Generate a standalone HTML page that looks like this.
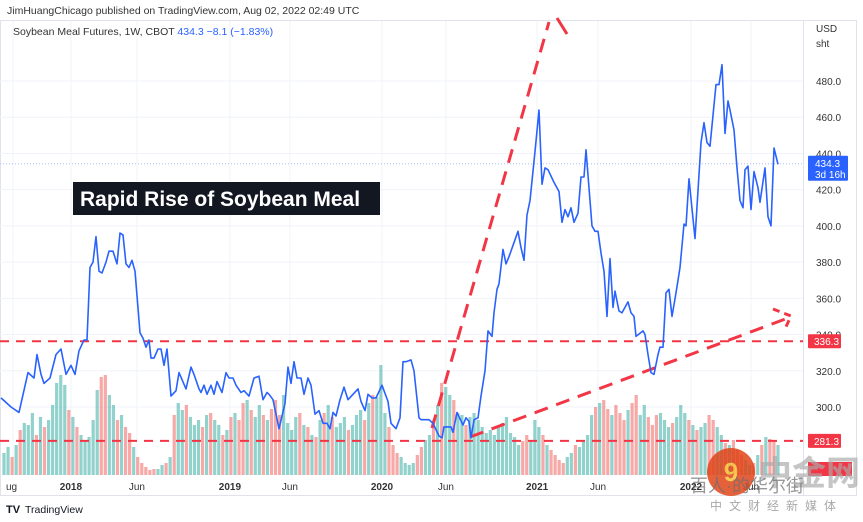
<!DOCTYPE html>
<html><head><meta charset="utf-8">
<style>
html,body{margin:0;padding:0;background:#fff;width:863px;height:522px;overflow:hidden;font-family:"Liberation Sans","Noto Sans CJK SC",sans-serif;}
svg text{font-family:"Liberation Sans","Noto Sans CJK SC",sans-serif;}
</style></head>
<body>
<svg id="chart" width="863" height="522" viewBox="0 0 863 522" xmlns="http://www.w3.org/2000/svg">
  <text x="7" y="14" font-size="10.5" fill="#333">JimHuangChicago published on TradingView.com, Aug 02, 2022 02:49 UTC</text>
  <rect x="0.5" y="20.5" width="856" height="475" fill="none" stroke="#e0e3eb"/>
  <line x1="803.5" y1="20" x2="803.5" y2="496" stroke="#e0e3eb"/>
  <g id="grid"></g>
  <g id="volume"></g>
  <g id="levels"></g>
  <g id="arrows" fill="none" stroke="#f23645" stroke-width="3" stroke-dasharray="14 9">
    <line x1="432" y1="428" x2="549" y2="22"/>
    <polyline points="557,18 567,34" stroke-dasharray="none"/>
    <line x1="470" y1="437" x2="788" y2="318"/>
    <polyline points="773,309 791,316 784,331" stroke-dasharray="7 5"/>
  </g>
  <g id="priceline"></g>
  <g id="yaxis"></g>
  <g id="xaxis"></g>
  <text x="13" y="35" font-size="10.5" fill="#333">Soybean Meal Futures, 1W, CBOT <tspan fill="#2962ff">434.3  −8.1 (−1.83%)</tspan></text>
  <text x="816" y="32" font-size="10" fill="#333">USD</text>
  <text x="816" y="47" font-size="10" fill="#333">sht</text>
  <rect x="73" y="182" width="307" height="33" fill="#131722"/>
  <text x="80" y="206" font-size="21" font-weight="bold" fill="#fff">Rapid Rise of Soybean Meal</text>
  <g opacity="0.85">
    <circle cx="731" cy="472" r="24" fill="#e0461a"/>
    <text x="731" y="481" font-size="26" font-weight="bold" fill="#f7c23a" text-anchor="middle">9</text>
    <text x="758" y="485" font-size="34" font-weight="bold" fill="#aaa" opacity="0.8">中金网</text>
    <text x="690" y="492" font-size="18" fill="#555" opacity="0.7">百人·的华尔街</text>
    <text x="710" y="510" font-size="12" fill="#999" letter-spacing="7">中文财经新媒体</text>
  </g>
  <g>
    <text x="6" y="513" font-size="11" font-weight="bold" fill="#131722">TV</text>
    <text x="25" y="513" font-size="10.5" fill="#131722">TradingView</text>
  </g>
</svg>
<script>
const weekIdx=[0,10,18,27,33,36,40,43,49,55,60,65,70,74,78,83,86,89,92,95,98,101,105,108,112,116,119,122,125,128,131,134,139,142,145,148,150,153,157,160,163,166,170,175,178,185,190,193,198,200,203,206,210,213,216,221,225,228,232,235,240,243,248,253,258,262,266,268,272,278,284,287,290,293,296,300,303,307,310,314,318,322,326,329,332,335,339,343,347,352,357,360,364,367,371,375,381,387,390,395,399,402,405,410,413,418,420,428,432,438,441,443,450,452,456,462,465,468,470,473,477,480,484,487,491,493,496,498,502,505,508,517,520,523,526,529,534,538,541,544,547,553,558,561,564,567,570,573,577,580,583,585,591,594,597,600,603,606,609,612,614,618,621,627,630,633,635,642,644,647,650,653,657,659,662,665,668,671,675,677,679,683,685,688,694,700,703,706,709,715,718,721,724,727,729,733,736,739,742,744,747,750,753,757,759,764,767,770,773,777].map(x=>x/3);
const prices=[305,300,297,319,316,329,318,313,316,329,332,318,323,318,331,337,337,377,380,394,375,374,380,386,386,379,396,395,379,377,381,375,341,338,333,337,327,327,332,332,323,332,306,309,319,310,322,318,310,308,312,307,312,307,314,308,319,316,316,312,308,309,306,316,317,304,308,307,304,288,302,322,313,325,316,316,307,316,312,296,298,291,291,288,297,295,304,311,304,307,310,303,298,307,305,305,312,303,291,288,294,325,325,326,320,294,293,293,291,284,283,289,289,286,297,290,294,292,283,293,294,306,320,342,339,352,365,368,387,379,383,397,388,381,406,414,441,464,423,432,431,424,419,402,409,405,410,402,407,427,427,442,400,397,397,385,375,350,382,355,364,353,352,358,352,350,339,342,340,329,319,318,329,333,333,363,365,350,363,370,377,401,400,426,393,446,457,446,444,478,478,489,451,469,464,453,432,414,410,431,433,409,430,421,413,432,405,400,443,434];
const volumes=[22,28,18,30,45,52,50,62,40,58,48,55,70,92,100,90,65,58,48,40,34,38,55,85,98,100,80,70,55,60,48,42,28,18,12,8,5,6,6,10,12,18,60,72,65,70,58,50,55,48,60,62,55,50,40,45,58,62,55,72,75,65,58,70,60,55,66,75,60,80,52,45,58,62,50,48,40,38,55,62,70,58,48,52,58,45,50,60,65,55,72,80,78,110,62,48,30,22,18,12,10,12,20,28,35,40,55,70,92,88,80,75,62,60,50,58,62,55,48,42,45,40,48,52,58,42,38,30,34,40,35,55,48,40,30,25,20,15,12,18,22,30,28,35,40,60,68,72,75,66,60,70,62,55,65,72,80,60,70,58,50,60,62,55,48,52,58,70,62,55,50,45,48,52,60,55,48,40,32,30,35,25,20,15,10,12,20,30,38,36,34,30];
const volDates=[]; for(let i=0;i<volumes.length;i++){volDates.push(1+i*258/(volumes.length-1));}
const yTicks=[300,320,340,360,380,400,420,440,460,480];
const xTickLabels=["ug","2018","Jun","2019","Jun","2020","Jun","2021","Jun","2022","Jun"];
const xTickWeeks=[4,23.3,45.3,76.3,96.3,127,148.3,178.7,199,230,250];
const levels=[336.3,281.3];
const lastPrice=434.3;

const NS="http://www.w3.org/2000/svg";
function xS(w){return 1+w*3;}
function yS(v){return 81+(480-v)*1.811;}
function mk(tag,attrs,parent){const e=document.createElementNS(NS,tag);for(const k in attrs)e.setAttribute(k,attrs[k]);document.getElementById(parent).appendChild(e);return e;}

yTicks.forEach(v=>{
  const g=mk('line',{x1:0,x2:803,y1:yS(v),y2:yS(v),stroke:'#f0f3fa','stroke-width':1},'grid');
  
  
  const t=mk('text',{x:816,y:yS(v)+4,'font-size':10,fill:'#333'},'yaxis');
  
  
  t.textContent=v.toFixed(1);
});
xTickWeeks.forEach((w,i)=>{
  const g=mk('line',{x1:xS(w),x2:xS(w),y1:21,y2:475,stroke:'#f0f3fa','stroke-width':1},'grid');
  
  
  const lab=xTickLabels[i];
  const bold=/^\d{4}$/.test(lab);
  const t=mk('text',{x:i==0?6:xS(w),y:490,'font-size':10,fill:'#333','text-anchor':i==0?'start':'middle','font-weight':bold?'bold':'normal'},'xaxis');
  
  
  t.textContent=lab;
});
function priceAt(w){let p=prices[0];for(let i=0;i<weekIdx.length;i++){if(weekIdx[i]<=w)p=prices[i];}return p;}
volumes.forEach((v,i)=>{
  const w=volDates[i];
  const prev=i>0?priceAt(volDates[i-1]):prices[0];
  const up=priceAt(w)>=prev;
  const r=mk('rect',{x:xS(w)-1.6,y:475-v,width:3.2,height:v,fill:up?'rgba(38,166,154,0.5)':'rgba(239,83,80,0.5)'},'volume');
  
  
});
levels.forEach(v=>{
  const l=mk('line',{x1:0,x2:803,y1:yS(v),y2:yS(v),stroke:'#f23645','stroke-width':2,'stroke-dasharray':'9 7'},'levels');
  
  
  const r=mk('rect',{x:808,y:yS(v)-7,width:33,height:14,fill:'#f23645',rx:1},'yaxis');
  
  
  const t=mk('text',{x:814,y:yS(v)+4,'font-size':10,fill:'#fff'},'yaxis');
  
  
  t.textContent=v.toFixed(1);
});
const lowTag=mk('rect',{x:808,y:462,width:44,height:14,fill:'#f23645'},'yaxis');


const cl=mk('line',{x1:0,x2:803,y1:yS(lastPrice),y2:yS(lastPrice),stroke:'#aac0ff','stroke-width':1,'stroke-dasharray':'1 2'},'levels');


let d='';
for(let i=0;i<prices.length;i++){d+=(i?'L':'M')+xS(weekIdx[i]).toFixed(1)+' '+yS(prices[i]).toFixed(1);}
const pl=mk('path',{d:d,fill:'none',stroke:'#2962ff','stroke-width':1.6,'stroke-linejoin':'round'},'priceline');


const lt=mk('rect',{x:808,y:yS(lastPrice)-8,width:40,height:25,fill:'#2962ff',rx:1},'yaxis');


const t1=mk('text',{x:815,y:yS(lastPrice)+3,'font-size':10,fill:'#fff'},'yaxis');


t1.textContent=lastPrice.toFixed(1);
const t2=mk('text',{x:815,y:yS(lastPrice)+14,'font-size':10,fill:'#fff'},'yaxis');


t2.textContent='3d 16h';
</script>
</body></html>
